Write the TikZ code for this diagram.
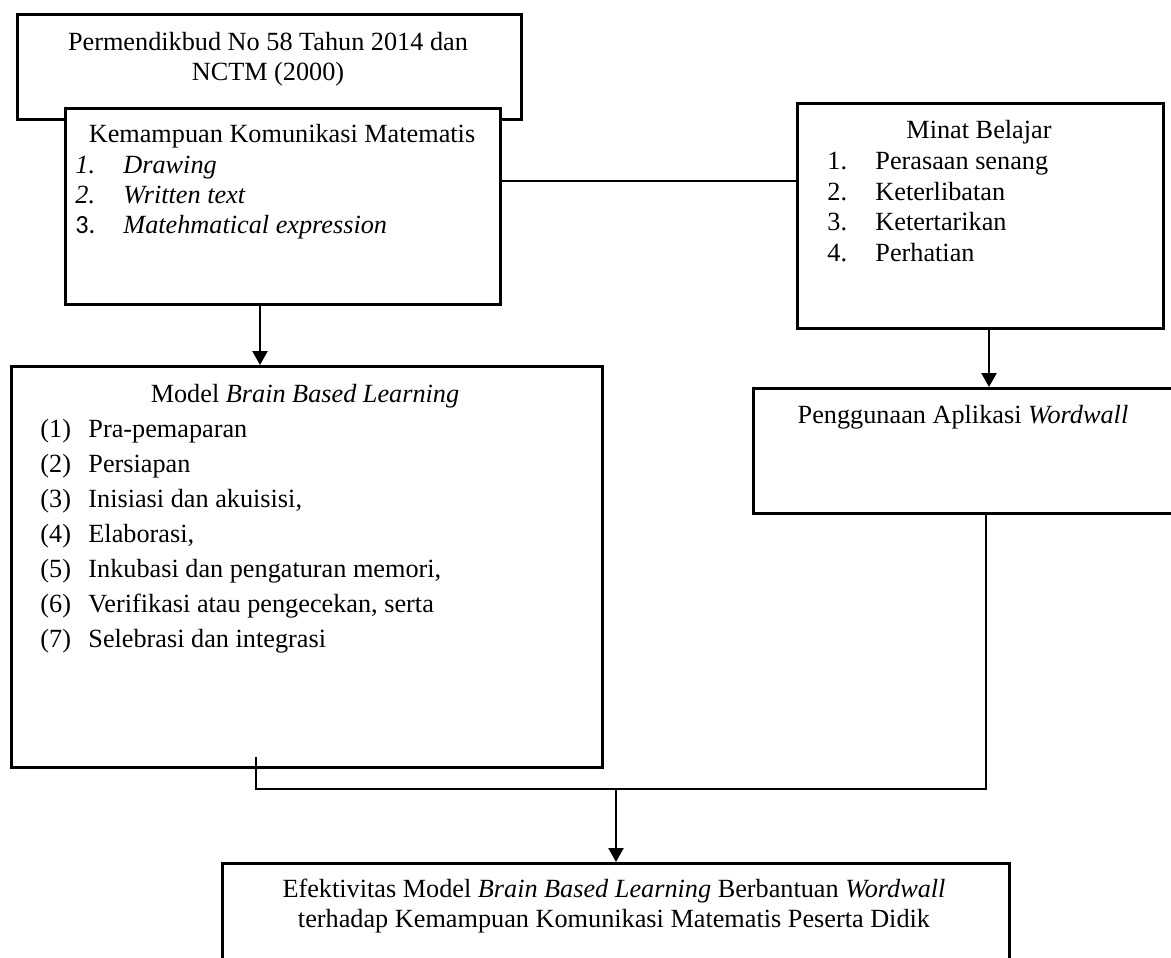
\documentclass[tikz,border=0pt]{standalone}
\usepackage{fontspec}
\setmainfont{Liberation Serif}
\newfontfamily\numsans{Carlito}
\usetikzlibrary{arrows.meta}

\begin{document}
\begin{tikzpicture}
[x=0.48pt, y=-0.48pt,
  boxDecorate/.style={draw, line width=1.2pt, fill=white, inner sep=0pt, anchor=north west},
  textDecorate/.style={inner sep=0pt, font=\fontsize{12.6pt}{15pt}\selectfont},
  lineDecorate/.style={line width=1.1pt},
  arrowDecorate/.style={line width=1.1pt, -{Triangle[width=7.2pt,length=6.7pt]}}]
\useasboundingbox (0,0) rectangle (1171,958);
\clip (0,0) rectangle (1171,958);
%% boxes
\foreach \boxname/\x/\y/\w/\h in {
  A/16/13/504/105, B/64/107/435/196, M/796/102/366/225,
  W/752/387/422/125, L/10/365/591/401, E/221/862/787/130}
{
  \node (\boxname) at (\x,\y) [boxDecorate, minimum width=\w*0.48pt, minimum height=\h*0.48pt] {};
}
%% texts of the boxes
\node (tA1) at (268,50) [textDecorate, anchor=base] {Permendikbud No 58 Tahun 2014 dan};
\node (tA2) at (268,80) [textDecorate, anchor=base] {NCTM (2000)};
\node (tB) at (282,142) [textDecorate, anchor=base] {Kemampuan Komunikasi Matematis};
\foreach \i/\nr/\txt/\y in {
  1/\textit{1.}/Drawing/173, 2/\textit{2.}/Written text/203,
  3/{\numsans 3.}/Matehmatical expression/233}
{
  \node (nB\i) at (75,\y) [textDecorate, anchor=base west] {\nr};
  \node (iB\i) at (123,\y) [textDecorate, anchor=base west] {\textit{\txt}};
}
\node (tM) at (979,138) [textDecorate, anchor=base] {Minat Belajar};
\foreach \i/\txt/\y in {
  1/Perasaan senang/169, 2/Keterlibatan/200, 3/Ketertarikan/230, 4/Perhatian/261}
{
  \node (nM\i) at (827,\y) [textDecorate, anchor=base west] {\i.};
  \node (iM\i) at (875,\y) [textDecorate, anchor=base west] {\txt};
}
\node (tL) at (305,402) [textDecorate, anchor=base] {Model \textit{Brain Based Learning}};
\foreach \i/\txt/\y in {
  1/Pra-pemaparan/437, 2/Persiapan/472, 3/{Inisiasi dan akuisisi,}/507,
  4/{Elaborasi,}/542, 5/{Inkubasi dan pengaturan memori,}/577,
  6/{Verifikasi atau pengecekan, serta}/612, 7/Selebrasi dan integrasi/647}
{
  \node (nL\i) at (40,\y) [textDecorate, anchor=base west] {(\i)};
  \node (iL\i) at (88,\y) [textDecorate, anchor=base west] {\txt};
}
\node (tW) at (963,423) [textDecorate, anchor=base] {Penggunaan Aplikasi \textit{Wordwall}};
\node (tE1) at (614,897) [textDecorate, anchor=base] {Efektivitas Model \textit{Brain Based Learning} Berbantuan \textit{Wordwall}};
\node (tE2) at (614,927) [textDecorate, anchor=base] {terhadap Kemampuan Komunikasi Matematis Peserta Didik};
%% connectors
\coordinate (yBM) at (0,181);
\coordinate (xBL) at (260,0);
\coordinate (xMW) at (989,0);
\coordinate (jL) at (256,757);
\coordinate (yJ) at (0,789);
\coordinate (xW) at (986,0);
\coordinate (xE) at (616,0);
\draw[lineDecorate] (B.east |- yBM) -- (M.west |- yBM);
\draw[arrowDecorate] (B.south -| xBL) -- (L.north -| xBL);
\draw[arrowDecorate] (M.south -| xMW) -- (W.north -| xMW);
\draw[lineDecorate] (jL) -- (jL |- yJ) -- (xW |- yJ) -- (W.south -| xW);
\draw[arrowDecorate] (xE |- yJ) -- (E.north -| xE);
\end{tikzpicture}
\end{document}
